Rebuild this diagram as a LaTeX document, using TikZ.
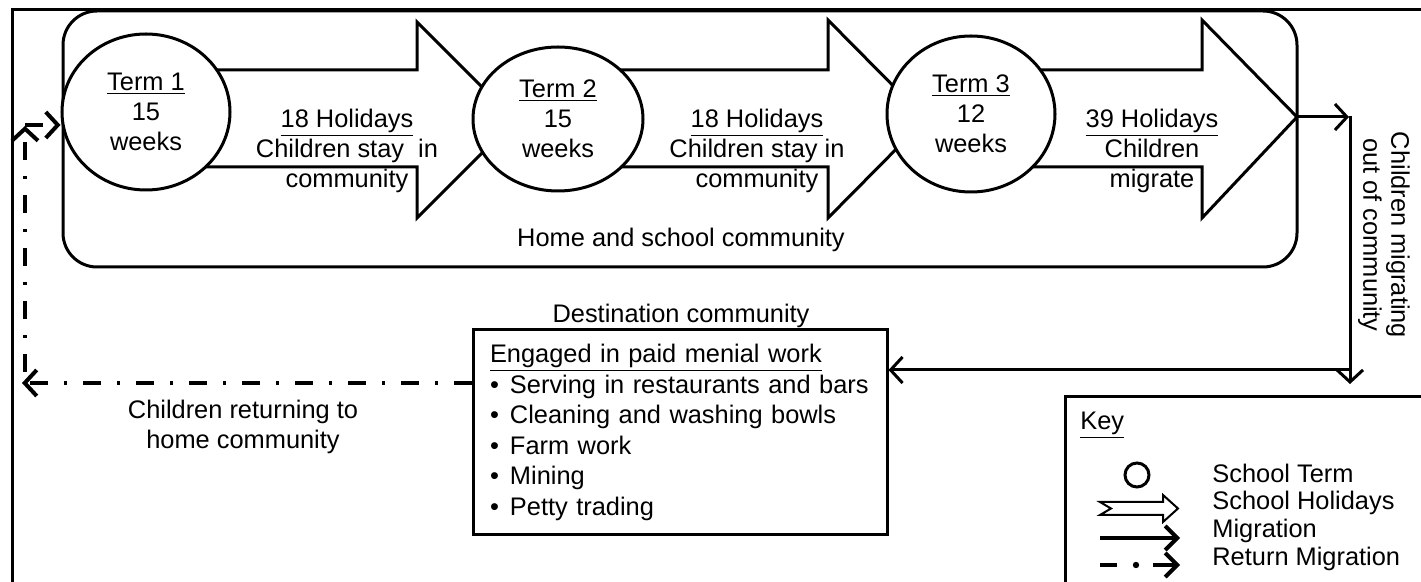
\documentclass[tikz,border=0pt]{standalone}
\usepackage{fontspec}
\setmainfont{Liberation Sans}
\usetikzlibrary{arrows.meta,shapes.geometric}
\begin{document}
\begin{tikzpicture}[x=0.5pt,y=-0.5pt,
  lw/.style={line width=1.5pt},
  fnt/.style={font=\fontsize{12.7}{15}\selectfont},
  txt/.style={fnt, align=center, inner sep=0pt},
  term/.style={ellipse, draw, lw, fill=white, inner sep=0pt, fnt, align=center},
  blk/.style={draw, lw, fill=white, line join=miter},
  barb/.style={-{Straight Barb[length=6pt,width=13pt]}},
  mig/.style={lw, barb},
  ret/.style={line width=2pt, dash pattern=on 9pt off 8pt on 1.5pt off 8pt, barb},
]
\useasboundingbox (0,0) rectangle (1421,582);
\clip (0,0) rectangle (1421,582);
% outer frame
\draw[lw] (12,10) rectangle (1440,600);
% home community
\draw[lw, rounded corners=17pt] (63,11) rectangle (1297,267);
\node[txt] (home) at (681,240) {Home and school community};
% block arrows (holidays)
\draw[blk] (146,70) -- (417,70) -- (417,22) -- (515,120) -- (417,218) -- (417,167) -- (146,167) -- cycle;
\draw[blk] (558,70) -- (828,70) -- (828,20) -- (926,119) -- (828,218) -- (828,167) -- (558,167) -- cycle;
\draw[blk] (971,70) -- (1202,70) -- (1202,20) -- (1297,117) -- (1202,218) -- (1202,167) -- (971,167) -- cycle;
\coordinate (tip3) at (1297,117);
% terms
\node[term, minimum width=84pt, minimum height=78pt] (t1) at (146,112) {\underline{Term 1}\\15\\weeks};
\node[term, minimum width=85pt, minimum height=72pt] (t2) at (558,119) {\underline{Term 2}\\15\\weeks};
\node[term, minimum width=84pt, minimum height=78pt] (t3) at (971,114) {\underline{Term 3}\\12\\weeks};
% holiday labels
\node[txt] (h1) at (347,151) {\underline{18 Holidays}\\Children stay\ \ in\\community};
\node[txt] (h2) at (757,151) {\underline{18 Holidays}\\Children stay in\\community};
\node[txt] (h3) at (1152,151) {\underline{39 Holidays}\\Children\\migrate};
% destination
\node[draw, lw, minimum width=207pt, minimum height=102.5pt, text width=190pt, inner xsep=8.5pt,
  align=left, font=\fontsize{12.7}{15.3}\selectfont] (dest) at (680,432.5)
  {\underline{Engaged in paid menial work}\\
   \makebox[10pt][l]{•}Serving in restaurants and bars\\
   \makebox[10pt][l]{•}Cleaning and washing bowls\\
   \makebox[10pt][l]{•}Farm work\\
   \makebox[10pt][l]{•}Mining\\
   \makebox[10pt][l]{•}Petty trading};
\node[txt] (destlbl) at (681,316) {Destination community};
% migration out
\coordinate (c1) at (1349,117);
\coordinate (c1b) at (1350,116);
\coordinate (c2) at (1350,384);
\coordinate (c3) at (1350,370);
\draw[mig] (tip3) -- (c1);
\draw[mig] (c1b) -- (c2);
\draw[mig] (c3) -- (dest.east |- c3);
\node[txt, rotate=-90, font=\fontsize{12.7}{14}\selectfont] (outlbl) at (1384,235) {Children migrating\\out of community};
% return migration
\coordinate (r1) at (22,383);
\coordinate (r2) at (25,372);
\coordinate (r3) at (25,126);
\coordinate (r4) at (25,125);
\draw[ret] (dest.west |- r1) -- (r1);
\draw[ret] (r2) -- (r3);
\draw[ret] (r4) -- (t1.west |- r4);
\node[txt] (retlbl) at (243,427) {Children returning to\\home community};
% key
\draw[lw] (1065,600) -- (1065,397) -- (1440,397);
\node[txt, anchor=west] (key) at (1080,425) {\underline{Key}};
\node[circle, draw, lw, minimum size=12pt, inner sep=0pt] (kc) at (1137,475) {};
\draw[line width=1pt, line join=miter] (1100,502) -- (1163,502) -- (1163,495) -- (1178,508.5) -- (1163,522) -- (1163,515) -- (1100,515) -- (1111,508.5) -- cycle;
\coordinate (km1) at (1100,538);
\coordinate (km2) at (1180,538);
\draw[line width=2pt, -{Straight Barb[length=6pt,width=12pt]}] (km1) -- (km2);
\coordinate (kr1) at (1100,565);
\coordinate (kr2) at (1117,565);
\coordinate (kr3) at (1153,565);
\coordinate (kr4) at (1180,565);
\draw[line width=2pt] (kr1) -- (kr2);
\fill (1136,565) circle (1.6pt);
\draw[line width=2pt, -{Straight Barb[length=6pt,width=12pt]}] (kr3) -- (kr4);
\node[txt, anchor=west] (k1) at (1212,473) {School Term};
\node[txt, anchor=west] (k2) at (1212,503) {School Holidays};
\node[txt, anchor=west] (k3) at (1212,531) {Migration};
\node[txt, anchor=west] (k4) at (1212,559) {Return Migration};
\end{tikzpicture}
\end{document}
